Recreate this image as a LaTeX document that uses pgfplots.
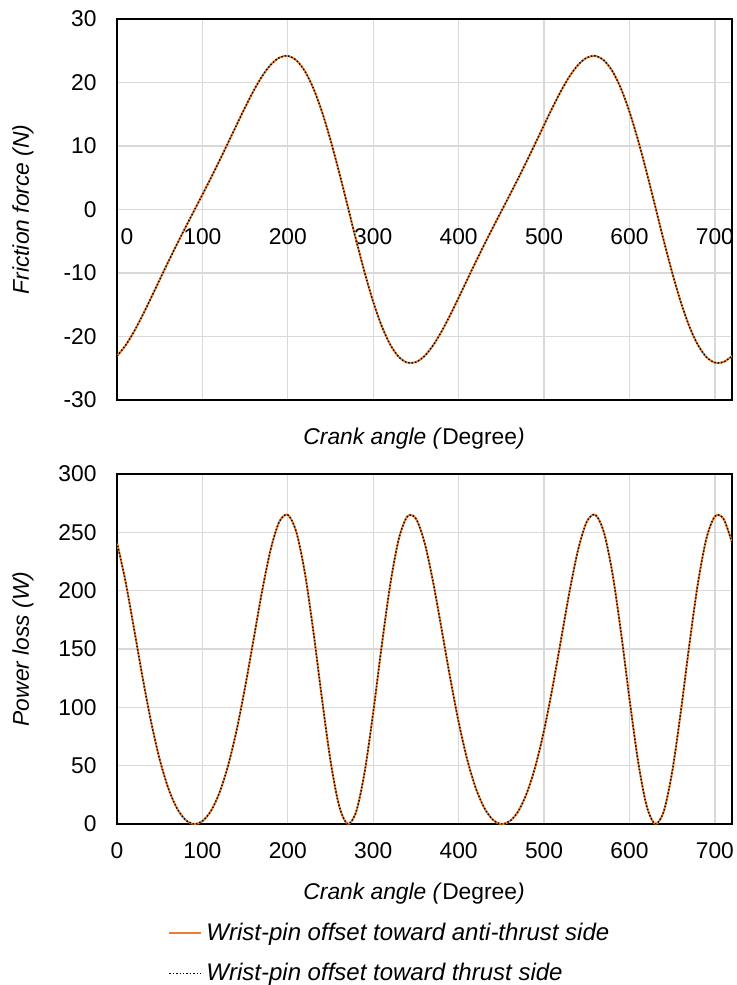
\documentclass[border=0pt]{standalone}
\usepackage{fontspec}
\setmainfont{Liberation Sans}
\usepackage{pgfplots}
\usepackage{pgfplotstable}
\pgfplotsset{compat=1.18}
\definecolor{orng}{RGB}{237,125,49}
\definecolor{grd}{RGB}{217,217,217}
\newcommand{\fsz}{\fontsize{11.4}{13.7}\selectfont}
\newcommand{\lsz}{\fontsize{12}{14.4}\selectfont}
\pgfplotstableread{
x F P
0 -23.08 241.4
10 -21.41 207.7
20 -19.20 167.1
30 -16.64 125.5
40 -13.88 87.3
50 -11.05 55.3
60 -8.25 30.8
70 -5.52 13.8
80 -2.86 3.7
90 -0.26 0.0
100 2.34 2.5
110 4.98 11.2
120 7.70 26.9
130 10.49 49.9
140 13.31 80.3
150 16.10 117.5
160 18.71 158.7
170 21.01 200.1
180 22.80 235.6
190 23.91 259.1
200 24.18 265.0
210 23.49 250.1
220 21.78 215.0
230 19.05 164.5
240 15.38 107.2
250 10.92 54.0
260 5.89 15.7
270 0.54 0.1
280 -4.84 10.6
290 -9.95 44.9
300 -14.55 95.9
310 -18.39 153.3
320 -21.31 205.8
330 -23.23 244.6
340 -24.12 263.7
350 -24.03 261.7
360 -23.08 241.4
370 -21.41 207.7
380 -19.20 167.1
390 -16.64 125.5
400 -13.88 87.3
410 -11.05 55.3
420 -8.25 30.8
430 -5.52 13.8
440 -2.86 3.7
450 -0.26 0.0
460 2.34 2.5
470 4.98 11.2
480 7.70 26.9
490 10.49 49.9
500 13.31 80.3
510 16.10 117.5
520 18.71 158.7
530 21.01 200.1
540 22.80 235.6
550 23.91 259.1
560 24.18 265.0
570 23.49 250.1
580 21.78 215.0
590 19.05 164.5
600 15.38 107.2
610 10.92 54.0
620 5.89 15.7
630 0.54 0.1
640 -4.84 10.6
650 -9.95 44.9
660 -14.55 95.9
670 -18.39 153.3
680 -21.31 205.8
690 -23.23 244.6
700 -24.12 263.7
710 -24.03 261.7
720 -23.08 241.4
}\datatab
\pgfplotsset{
  base/.style={
    scale only axis, width=307.5pt, xmin=0, xmax=720, xtick={0,100,...,700},
    major tick length=0pt, grid=major, major grid style={grd, line width=0.6pt},
    axis line style={black, line width=0.7pt},
    tick label style={font=\fsz},
    label style={font=\fsz\itshape},
    yticklabel style={xshift=-6.7pt},
    ylabel style={at={(axis description cs:-0.153,0.5)}, anchor=center},
    legend image code/.code={\draw[#1] (0pt,0pt) -- (16pt,0pt);},
  }
}
\begin{document}
\begin{tikzpicture}
\useasboundingbox (0,0) rectangle (368.5pt,492.5pt);
\begin{axis}[base, at={(58.5pt,292.5pt)}, anchor=south west, height=190.5pt,
  ymin=-30, ymax=30, ytick={-30,-20,...,30}, yticklabels={-30,-20,-10,0,10,20,30},
  xticklabels={\hspace*{10pt}0,100,200,300,400,500,600,700},
  xticklabel style={yshift=89.25pt},
  xlabel={Crank angle (\textup{Degree})},
  xlabel style={at={(axis description cs:0.483,-0.118)}, anchor=base},
  ylabel={Friction force (N)}]
\addplot[orng, line width=1pt, smooth] table[x=x,y=F]{\datatab};
\addplot[black, densely dotted, line width=0.7pt, smooth] table[x=x,y=F]{\datatab};
\end{axis}
\begin{axis}[base, at={(58.5pt,80.5pt)}, anchor=south west, height=175pt,
  ymin=0, ymax=300, ytick={0,50,...,300}, yticklabels={0,50,100,150,200,250,300},
  xticklabels={0,100,200,300,400,500,600,700},
  xticklabel style={yshift=-6pt},
  xlabel={Crank angle (\textup{Degree})},
  xlabel style={at={(axis description cs:0.483,-0.217)}, anchor=base},
  ylabel={Power loss (W)},
  legend style={at={(axis description cs:0.083,-0.27)}, anchor=north west, draw=none, fill=none, inner sep=0pt, font=\lsz\itshape, cells={anchor=west}, row sep=6pt}]
\addplot[orng, line width=1pt, smooth] table[x=x,y=P]{\datatab};
\addlegendentry{Wrist-pin offset toward anti-thrust side}
\addplot[black, densely dotted, line width=0.7pt, smooth] table[x=x,y=P]{\datatab};
\addlegendentry{Wrist-pin offset toward thrust side}
\end{axis}
\end{tikzpicture}
\end{document}
